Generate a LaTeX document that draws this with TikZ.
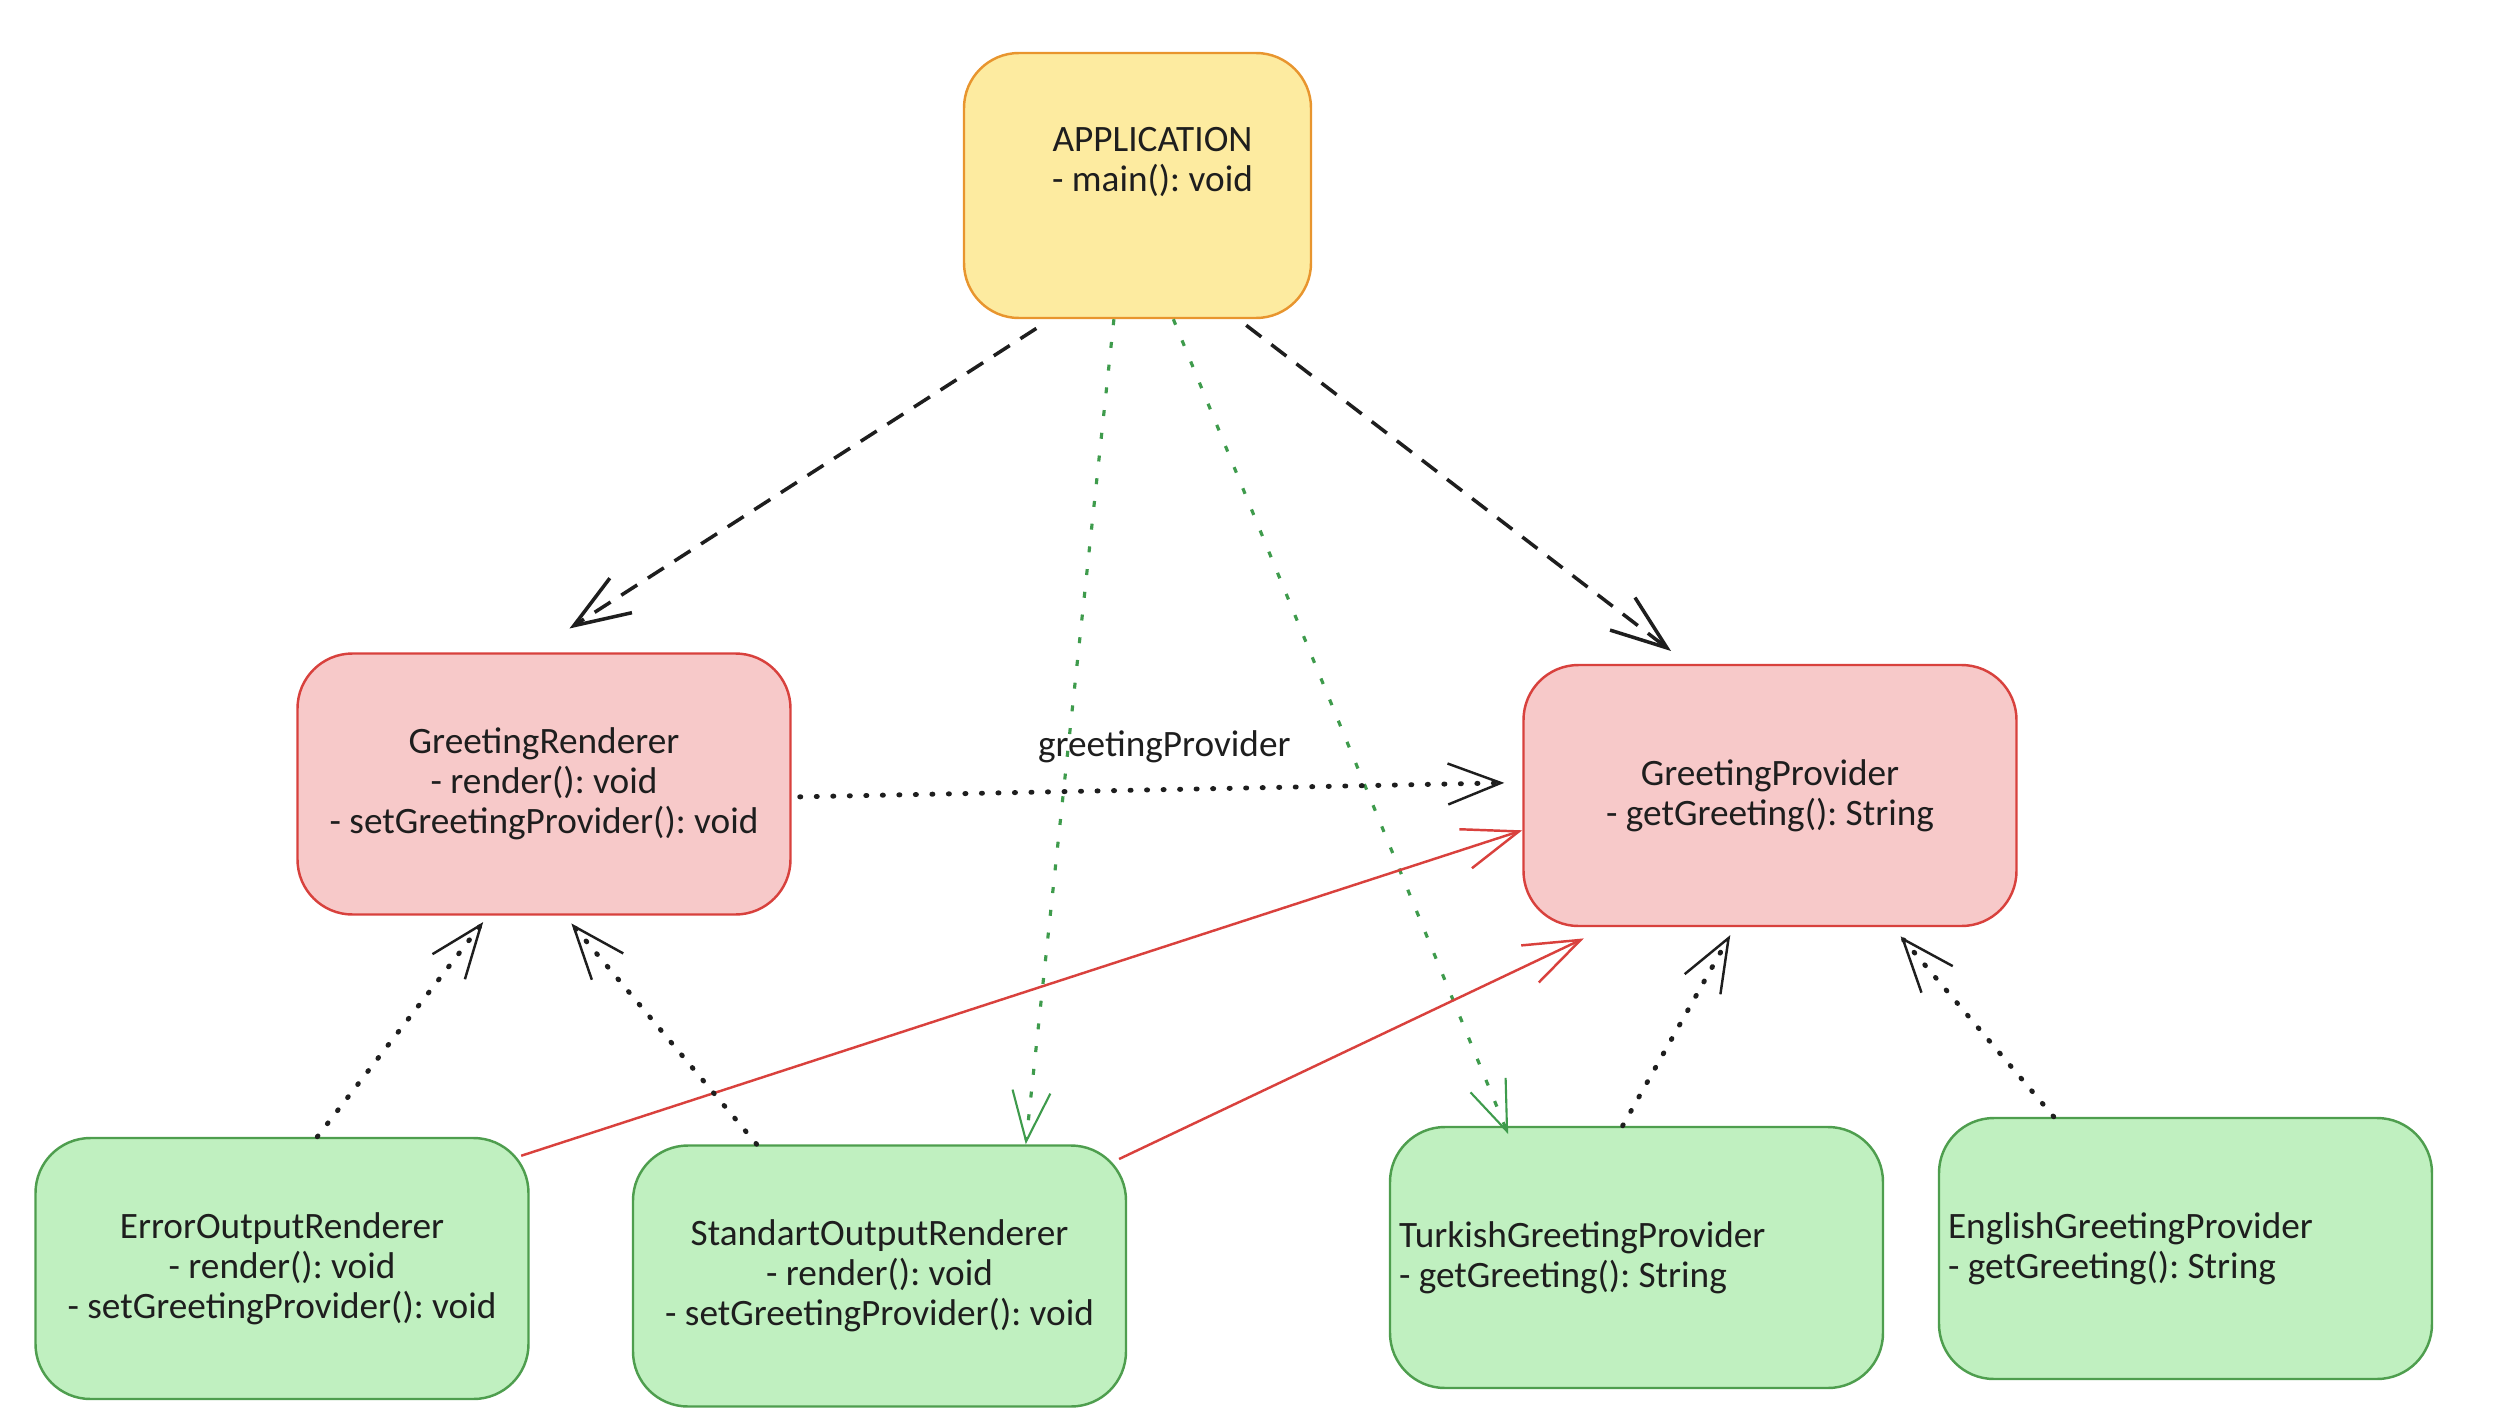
\documentclass[tikz,border=0pt]{standalone}
\usepackage{fontspec}
\setmainfont{Carlito}
\usetikzlibrary{positioning, arrows.meta, shapes}

\definecolor{appFill}{HTML}{FDEBA0}
\definecolor{appDraw}{HTML}{E8952E}
\definecolor{ifaceFill}{HTML}{F7C9C9}
\definecolor{ifaceDraw}{HTML}{D8413D}
\definecolor{implFill}{HTML}{C0F0C0}
\definecolor{implDraw}{HTML}{4E9E4E}
\definecolor{ink}{HTML}{1E1E1E}
\definecolor{linkGreen}{HTML}{3E9B4C}
\definecolor{linkRed}{HTML}{D9413D}

\tikzset{
	boxFont/.style={text=ink, font=\fontsize{10.6}{11.4}\selectfont\frenchspacing},
	classBox/.style={draw, rectangle, rounded corners=0.55cm, line width=0.7pt, minimum width=4.93cm, 
	minimum height=2.61cm, align=center, boxFont},
	appBox/.style={classBox, fill=appFill, draw=appDraw, minimum width=3.47cm, minimum height=2.65cm},
	ifaceBox/.style={classBox, fill=ifaceFill, draw=ifaceDraw},
	implBox/.style={classBox, fill=implFill, draw=implDraw},
	leftText/.style={align=flush left, text width=4.75cm, inner xsep=0.09cm},
	barb/.style={-{Straight Barb[length=0.56cm, width=0.41cm]}},
	dashLink/.style={barb, draw=ink, line width=1pt, dash pattern=on 5.4pt off 3.6pt},
	dotLink/.style={draw=ink, line width=1.4pt, line cap=round, dash pattern=on 0.3pt off 4.4pt,
	-{Straight Barb[length=0.53cm, width=0.41cm, line width=0.7pt]}},
	greenLink/.style={draw=linkGreen, line width=0.9pt, dash pattern=on 1.7pt off 4.8pt,
	-{Straight Barb[length=0.5cm, width=0.38cm, line width=0.6pt]}},
	redLink/.style={barb, draw=linkRed, line width=0.7pt},
}

\begin{document}
\begin{tikzpicture}
		\useasboundingbox (0,0) rectangle (25.16,-14.26);
		
		\node (app) at (11.375,-1.855) [appBox]{\hspace*{0.3cm}APPLICATION\\\hspace*{0.3cm}- main(): 
		void\\\strut};
		
		\node (renderer) at (5.44,-7.84) [ifaceBox]{GreetingRenderer\\- render(): void\\- 
		setGreetingProvider(): void};
		
		\node (provider) at (17.70,-7.955) [ifaceBox]{GreetingProvider\\- getGreeting(): String};
		
		\node (errorR) at (2.82,-12.685) [implBox]{ErrorOutputRenderer\\- render(): void\\- 
		setGreetingProvider(): void};
		
		\node (stdR) at (8.795,-12.76) [implBox]{StandartOutputRenderer\\- render(): void\\- 
		setGreetingProvider(): void};
		
		\node (turkish) at (16.365,-12.575) [implBox, leftText]{TurkishGreetingProvider\\- 
		getGreeting(): String};
		
		\node (english) at (21.855,-12.485) [implBox, leftText]{EnglishGreetingProvider\\- 
		getGreeting(): String};
		
		%Links
		\draw[dashLink, shorten <=0.17cm, shorten >=0.44cm] (app.237) -- (renderer.95);
		\draw[dashLink, shorten <=0.1cm, shorten >=0.21cm] (app.307) -- (provider.122);
		\draw[greenLink] (app.260) -- (stdR.42.4);
		\draw[greenLink, shorten >=-0.09cm] (app.285) -- (turkish.135);
		\draw[dotLink, shorten <=0.08cm, shorten >=0.18cm] (renderer.357) -- (provider.177) 
		node[pos=0.51, yshift=0.43cm, boxFont] (provLabel) {greetingProvider};
		\draw[redLink, shorten <=-0.09cm] (errorR.25.7) -- (provider.188);
		\draw[redLink, shorten <=-0.09cm, shorten >=0.26cm] (stdR.26.1) -- (provider.219.4);
		\draw[dotLink, shorten >=0.08cm] (errorR.75.4) -- (renderer.247.5);
		\draw[dotLink, shorten >=0.1cm] (stdR.133.5) -- (renderer.279.7);
		\draw[dotLink, shorten >=0.09cm] (turkish.96.8) -- (provider.255.2);
		\draw[dotLink, shorten >=0.12cm] (english.135) -- (provider.313.7);
		
\end{tikzpicture}
\end{document}
